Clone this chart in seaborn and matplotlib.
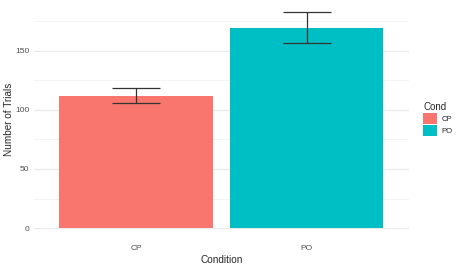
# Import libraries
import pandas as pd
import seaborn as sns
import matplotlib.pyplot as plt
from matplotlib.patches import Patch
from matplotlib.ticker import MultipleLocator

# Data
conditions = ["CP", "PO"]
trials_mean = [112, 169.5]
trials_err = [6.3, 13.3]
colors = ["#F8766D", "#00BFC4"]

df = pd.DataFrame({"Condition": conditions, "Cond": conditions, "Trials": trials_mean})

sns.set_style("white")
plt.rcParams["font.family"] = ["Liberation Sans", "DejaVu Sans"]

fig = plt.figure(figsize=(4.62, 2.74), dpi=100)
ax = fig.add_axes([0.073, 0.128, 0.812, 0.872])

# Grid like theme_minimal
ax.set_axisbelow(True)
ax.yaxis.set_major_locator(MultipleLocator(50))
ax.yaxis.set_minor_locator(MultipleLocator(25))
ax.grid(which="major", color="#EBEBEB", linewidth=0.9)
ax.grid(which="minor", axis="y", color="#F2F2F2", linewidth=0.6)

sns.barplot(data=df, x="Condition", y="Trials", hue="Cond", palette=colors,
            width=0.9, dodge=False, legend=False, ax=ax, saturation=1,
            linewidth=0, errorbar=None)

# Error bars with caps
xpos = range(len(conditions))
ax.errorbar(xpos, trials_mean, yerr=trials_err, fmt="none", ecolor="#333333",
            elinewidth=0.9, capsize=17, capthick=0.9)

ax.set_xlim(-0.6, 1.6)
ax.set_ylim(-9.15, 192.9)

for s in ax.spines.values():
    s.set_visible(False)
ax.tick_params(axis="both", which="both", length=0, labelsize=6, labelcolor="#4D4D4D", pad=3)
ax.tick_params(axis="x", pad=4.5)
ax.set_xlabel("Condition", fontsize=7.2, labelpad=2)
ax.set_ylabel("Number of Trials", fontsize=7.2, labelpad=1)

# Legend on the right
handles = [Patch(facecolor=c, edgecolor="none") for c in colors]
leg = fig.legend(handles, conditions, title="Cond", loc="center left",
                 bbox_to_anchor=(0.916, 0.565), frameon=False, fontsize=5.6,
                 title_fontsize=7, handlelength=1.8, handleheight=1.8,
                 handletextpad=0.6, labelspacing=0.1, borderaxespad=0,
                 borderpad=0)
leg._legend_box.align = "left"

fig.savefig("out.png", dpi=100)
